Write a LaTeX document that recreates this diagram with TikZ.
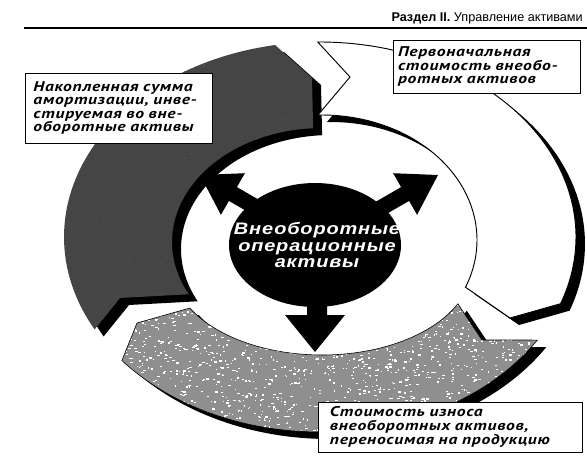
\documentclass[tikz,border=0pt]{standalone}
\usepackage{fontspec}
\setmainfont{Liberation Sans}
\newfontfamily\boxfont[FakeStretch=1.25,LetterSpace=5]{PT Sans}
\newfontfamily\corefont[FakeStretch=1.2,LetterSpace=5]{Liberation Sans}
\usetikzlibrary{shapes.geometric}
\definecolor{darkfill}{gray}{0.27}
\definecolor{grayfill}{gray}{0.56}

\newcommand{\DarkArrowShape}[1]{%
  \path[#1] (120,298) -- plot[domain=208.3:100.1,samples=70,variable=\t] ({320+256*cos(\t)},{237-195*sin(\t)})
    -- (312,78) -- plot[domain=93.4:207.3,samples=70,variable=\t] ({322+150*cos(\t)},{242-114*sin(\t)}) -- cycle;}
\newcommand{\WhiteArrowShape}[1]{%
  \path[#1] (350,77) -- plot[domain=90.5:-20,samples=80,variable=\t] ({320+256*cos(\t)},{237-195*sin(\t)})
    -- (510,318) -- plot[domain=-22.2:91.5,samples=80,variable=\t] ({322+155*cos(\t)},{240-125*sin(\t)}) -- cycle;}
\newcommand{\GrayArrowShape}[1]{%
  \path[#1] (482,340) -- plot[domain=-31.9:-140.7,samples=80,variable=\t] ({320+256*cos(\t)},{237-195*sin(\t)})
    -- (137,323) -- plot[domain=-151.8:-25.1,samples=80,variable=\t] ({322+150*cos(\t)},{266-89*sin(\t)}) -- cycle;}

\begin{document}
\begin{tikzpicture}[x=0.03cm,y=-0.03cm,
  labelbox/.style={draw=black, fill=white, line width=0.8pt, inner sep=0pt,
    font=\boxfont\bfseries\itshape\fontsize{12}{11.6}\selectfont, align=left},
  shadowfill/.style={fill=black, shift={(9,7)}},
  arrowhead/.style={fill=black}]
\useasboundingbox (0,0) rectangle (587,469);

% header
\node[anchor=base east, font=\fontsize{10.8}{12}\selectfont, inner sep=0pt] (hdr) at (583,21) {\textbf{Раздел II.} Управление активами};
\coordinate (ruleL) at (24,28);
\coordinate (ruleR) at (587,28);
\draw[line width=0.9pt] (ruleL) -- (ruleR);

% shadows
\DarkArrowShape{shadowfill}
\WhiteArrowShape{shadowfill}
\GrayArrowShape{shadowfill}
% arrows of the cycle
\DarkArrowShape{fill=darkfill}
\begin{scope}
  \DarkArrowShape{clip}
  \pgfmathsetseed{7}
  \foreach \i in {1,...,1100} {
    \pgfmathsetmacro\px{60+rnd*270}
    \pgfmathsetmacro\py{40+rnd*300}
    \pgfmathsetmacro\pw{0.8+rnd*1.6}
    \fill[gray!60!black] (\px,\py) rectangle ++(\pw,1);
  }
\end{scope}
\WhiteArrowShape{fill=white, draw=black, line width=0.8pt}
\GrayArrowShape{fill=grayfill}
\begin{scope}
  \GrayArrowShape{clip}
  \pgfmathsetseed{42}
  \foreach \i in {1,...,1700} {
    \pgfmathsetmacro\px{110+rnd*440}
    \pgfmathsetmacro\py{290+rnd*150}
    \pgfmathsetmacro\pw{0.8+rnd*2.2}
    \pgfmathsetmacro\ph{0.7+rnd*1.1}
    \fill[white] (\px,\py) rectangle ++(\pw,\ph);
  }
\end{scope}
\GrayArrowShape{draw=black, line width=0.5pt}

% central element
\node[ellipse, fill=black, minimum width=5.16cm, minimum height=3.72cm, inner sep=0pt] (core) at (315,245) {};
\path[arrowhead] (307,290) -- (307,315) -- (285,315) -- (315,352) -- (345,315) -- (327,315) -- (327,290) -- cycle;
\path[arrowhead] (272.2,225.9) -- (228.9,200.9) -- (220.9,214.8) -- (200,175) -- (244.9,173.2) -- (236.9,187.1) -- (280.2,212.1) -- cycle;
\path[arrowhead] (365.8,225.9) -- (409.1,200.9) -- (417.1,214.8) -- (438,175) -- (393.1,173.2) -- (401.1,187.1) -- (357.8,212.1) -- cycle;
\node[text=white, font=\corefont\bfseries\itshape\fontsize{14.2}{14.2}\selectfont, align=center, inner sep=0pt] (coretext) at (317,245) {Внеоборотные\\операционные\\активы};

% label boxes
\node[labelbox, minimum width=5.61cm, minimum height=2.1cm, text width=5.1cm] (boxA) at (118.5,108)
  {\makebox[5.1cm][s]{Накопленная сумма}\\
   \makebox[5.1cm][s]{амортизации, инве-}\\
   \makebox[5.1cm][s]{стируемая во вне-}\\
   \makebox[5.1cm][l]{оборотные активы}};
\node[labelbox, minimum width=5.61cm, minimum height=1.59cm, text width=5.31cm] (boxB) at (486.5,66.5)
  {\makebox[5.31cm][l]{Первоначальная}\\
   \makebox[5.31cm][l]{стоимость внеобо-}\\
   \makebox[5.31cm][l]{ротных активов}};
\node[labelbox, minimum width=7.92cm, minimum height=1.5cm, text width=7.2cm] (boxC) at (450,427)
  {\makebox[7.2cm][l]{Стоимость износа}\\
   \makebox[7.2cm][l]{внеоборотных активов,}\\
   \makebox[7.2cm][l]{переносимая на продукцию}};
\end{tikzpicture}
\end{document}
